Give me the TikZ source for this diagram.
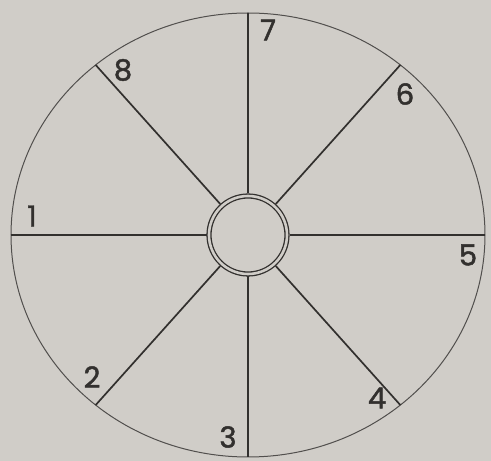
\documentclass[tikz,border=0pt]{standalone}
\usepackage{fontspec}
\newfontfamily\numfont[FakeBold=1.6]{Poppins}
\definecolor{paper}{RGB}{208,205,200}
\definecolor{ink}{RGB}{50,48,46}
\begin{document}
\begin{tikzpicture}[x=1pt, y=1pt,
    spoke/.style={ink, line width=1.7pt},
    rim/.style={ink!85, line width=1pt},
    num/.style={text=ink, font=\numfont\fontsize{29}{29}\selectfont, inner sep=0pt}]

    % Background (photo paper)
    \fill[paper] (0,0) rectangle (491,461);
    \useasboundingbox (0,0) rectangle (491,461);

    % Parameters for the wheel
    \def\cx{248}
    \def\cy{226}
    \def\rx{237}
    \def\ry{222}

    % Outer rim
    \draw[rim] (\cx,\cy) ellipse [x radius=\rx, y radius=\ry];

    % Hub with double ring
    \node[draw=ink, double=paper, double distance=2.6pt, line width=1.3pt,
          circle, minimum size=78pt, inner sep=0pt, outer sep=2.5pt] (hub) at (\cx,\cy) {};

    % Rim points where the spokes end
    \foreach \n/\t in {1/180, 2/230, 3/270, 4/310, 5/0, 6/50, 7/90, 8/130} {
        \coordinate (rim\n) at ({\cx+\rx*cos(\t)}, {\cy+\ry*sin(\t)});
    }

    % Spokes from hub to rim
    \foreach \n in {1,...,8} {
        \draw[spoke] (hub) -- (rim\n);
    }

    % Sector numbers
    \foreach \n/\x/\y in {1/32/245, 2/92/84, 3/228/24, 4/377/63,
                          5/468/206, 6/405/367, 7/268/431, 8/123/391} {
        \node[num] (lab\n) at (\x,\y) {\n};
    }

\end{tikzpicture}
\end{document}
